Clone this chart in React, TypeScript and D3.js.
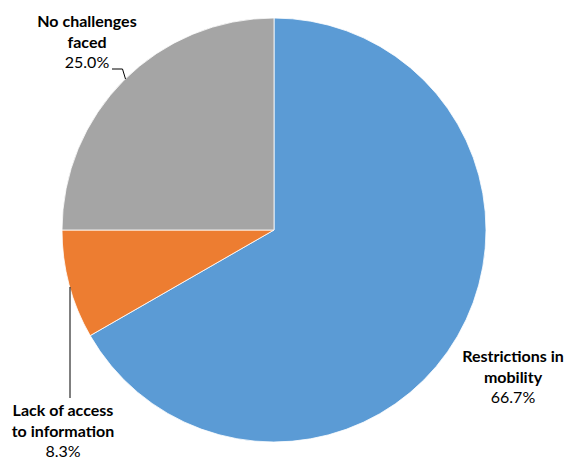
import React from "react";
import * as d3 from "d3";

const categories = ["Restrictions in mobility", "Lack of access to information", "No challenges faced"];
const values = [66.7, 8.3, 25.0];
const labelLines = [["Restrictions in", "mobility"], ["Lack of access", "to information"], ["No challenges", "faced"]];
const colors = ["#5B9BD5", "#ED7D31", "#A5A5A5"];

const W = 569, H = 459;
const cx = 274, cy = 230, R = 212;

// label layout (relative to chart): [centerX, firstBaselineY]
const labelPos = [
  [513, 362],
  [63, 416],
  [87, 27],
];

export default function App() {
  const pie = d3.pie<number>().sort(null).startAngle(0).endAngle(2 * Math.PI);
  const arcs = pie(values);
  const arc = d3.arc<d3.PieArcDatum<number>>().innerRadius(0).outerRadius(R);
  const lh = 20.5;
  return (
    <div style={{ position: "absolute", left: 0, top: 0 }}>
      <svg width={W} height={H} style={{ display: "block" }}>
        <rect width={W} height={H} fill="#fff" />
        <g transform={`translate(${cx},${cy})`}>
          {arcs.map((a, i) => (
            <path key={categories[i]} d={arc(a) || ""} fill={colors[i]} stroke="#fff" strokeWidth={0.8} />
          ))}
        </g>
        {/* leader lines */}
        <polyline points={`112,69 122.5,69 125.5,79`} fill="none" stroke="#000" strokeWidth={1} />
        <line x1={70} y1={287} x2={70} y2={398} stroke="#000" strokeWidth={1} />
        {labelLines.map((lines, i) => (
          <text key={i} textAnchor="middle" fontFamily="Lato, 'Open Sans', sans-serif" fontSize={16} fill="#000">
            {lines.map((l, j) => (
              <tspan key={j} x={labelPos[i][0]} y={labelPos[i][1] + j * lh} fontWeight="bold">{l}</tspan>
            ))}
            <tspan x={labelPos[i][0]} y={labelPos[i][1] + lines.length * lh}>{values[i].toFixed(1)}%</tspan>
          </text>
        ))}
      </svg>
    </div>
  );
}
